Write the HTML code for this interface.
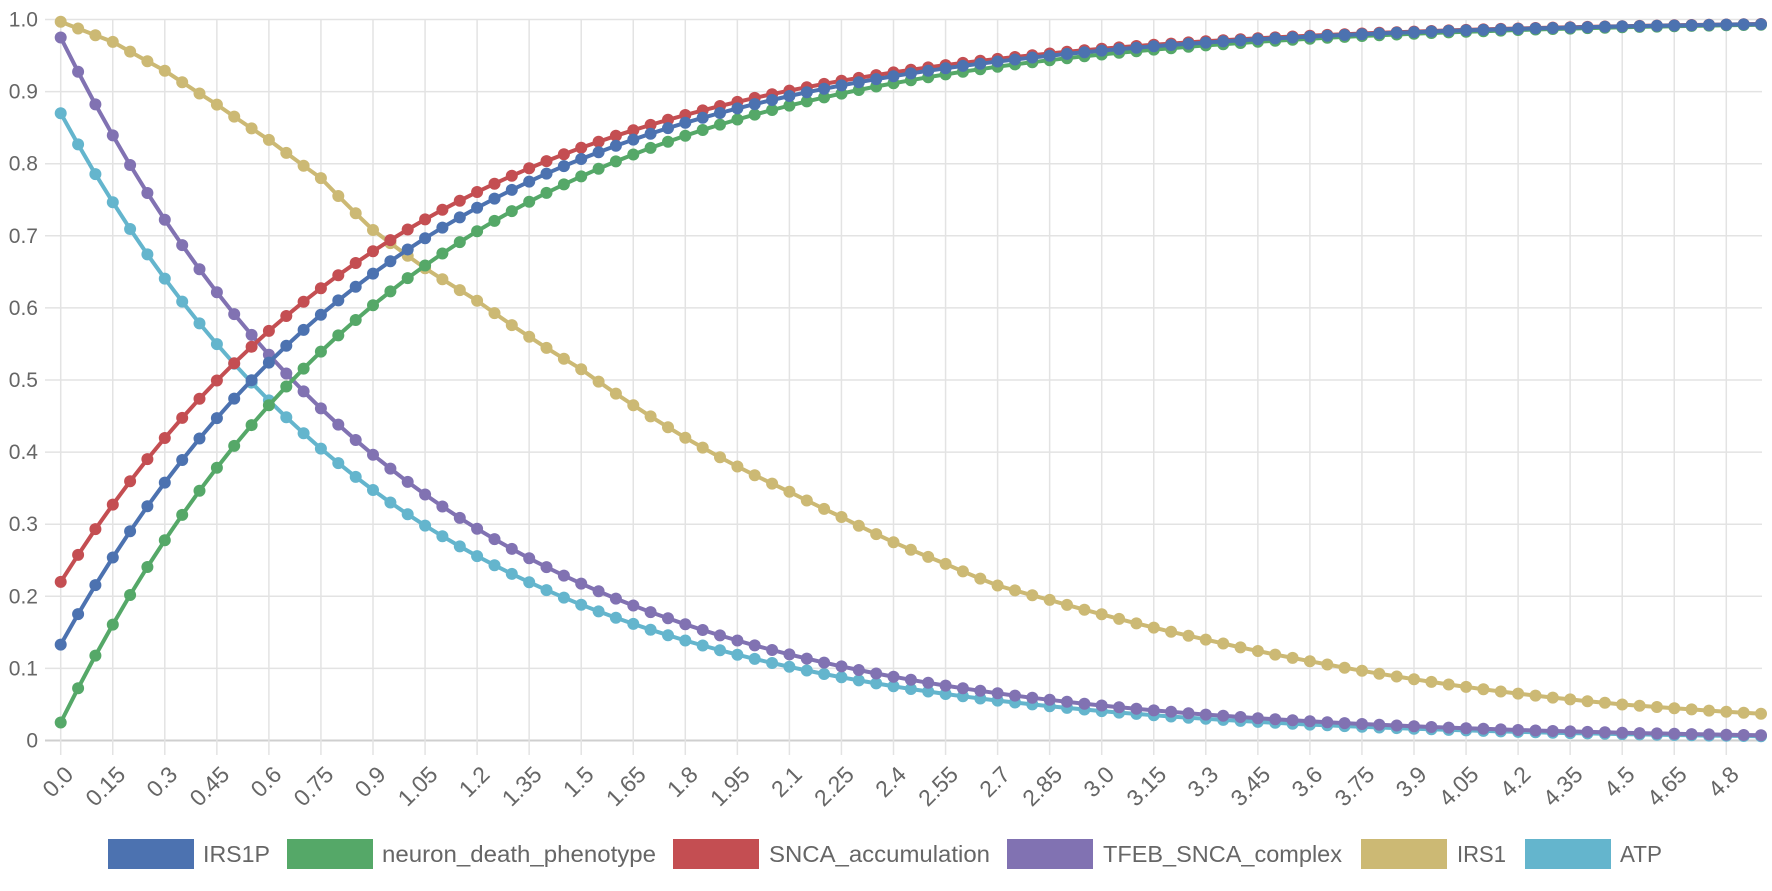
<!DOCTYPE html>
<html><head><meta charset="utf-8">
<style>
html,body{margin:0;padding:0;background:#fff;}
body{width:1772px;height:886px;overflow:hidden;font-family:"Liberation Sans",sans-serif;}
</style></head>
<body>
<svg id="c" width="1772" height="886" xmlns="http://www.w3.org/2000/svg" font-family="Liberation Sans, sans-serif"></svg>
<script>
var svg=document.getElementById('c');
var X0=60.7,S=17.35,Y1=19.5,Y0=740.5;
function X(i){return X0+i*S;}
function Y(v){return Y0-(Y0-Y1)*v;}
var h='';
for(var k=0;k<=10;k++){var y=Y(k/10);
h+='<line x1="45" x2="1762" y1="'+y+'" y2="'+y+'" stroke="'+(k==0?'#cfcfcf':'#e3e3e3')+'" stroke-width="'+(k==0?2:1.5)+'"/>';
h+='<text x="38" y="'+(y+7)+'" text-anchor="end" font-size="21" fill="#666">'+(k==0?'0':(k/10).toFixed(1))+'</text>';}
for(var i=0;i<=98;i+=3){var x=X(i);
h+='<line x1="'+x+'" x2="'+x+'" y1="'+Y1+'" y2="755" stroke="#e3e3e3" stroke-width="1.5"/>';
var t=Math.round(i*5)/100;var lab=(t%1===0)?t.toFixed(1):String(t);
h+='<text transform="translate('+(x+14)+',776) rotate(-45)" text-anchor="end" font-size="23" fill="#666">'+lab+'</text>';}
var knots=[[0,.997],[.15,.969],[.3,.929],[.45,.882],[.6,.833],[.75,.78],[.9,.708],[1.05,.655],[1.2,.61],[1.35,.56],[1.5,.515],[1.65,.465],[1.8,.42],[1.95,.38],[2.1,.345],[2.25,.31],[2.4,.275],[2.55,.245],[2.7,.215],[2.85,.195],[3.0,.175],[3.3,.14],[3.6,.11],[3.9,.085],[4.2,.065],[4.5,.05],[4.8,.04],[4.9,.037]];
function irs1(t){for(var j=0;j<knots.length-1;j++){var a=knots[j],b=knots[j+1];if(t<=b[0]+1e-9){var f=(t-a[0])/(b[0]-a[0]);return Math.exp(Math.log(a[1])*(1-f)+Math.log(b[1])*f);}}return .037;}
var series=[
['#64b5cd',function(t){return .87*Math.exp(-1.02*t);}],
['#ccb974',irs1],
['#8172b2',function(t){return .975*Math.exp(-t);}],
['#c44e52',function(t){return 1-.78*Math.exp(-.985*t);}],
['#55a868',function(t){return 1-.975*Math.exp(-t);}],
['#4c72b0',function(t){return 1-.867*Math.exp(-t);}]
];
series.forEach(function(s){var pts=[],d='';
for(var i=0;i<=98;i++){var t=i*0.05;pts.push([X(i),Y(s[1](t))]);}
h+='<polyline fill="none" stroke="'+s[0]+'" stroke-width="4" stroke-linejoin="round" points="'+pts.map(function(p){return p[0].toFixed(1)+','+p[1].toFixed(1);}).join(' ')+'"/>';
pts.forEach(function(p){d+='<circle cx="'+p[0].toFixed(1)+'" cy="'+p[1].toFixed(1)+'" r="6" fill="'+s[0]+'"/>';});
h+=d;});
var leg=[['IRS1P','#4c72b0',108,203,67],['neuron_death_phenotype','#55a868',287,382,274],['SNCA_accumulation','#c44e52',673,769,221],['TFEB_SNCA_complex','#8172b2',1007,1103,239],['IRS1','#ccb974',1361,1457,49],['ATP','#64b5cd',1525,1620,42]];
leg.forEach(function(l){
h+='<rect x="'+l[2]+'" y="839" width="86" height="30" fill="'+l[1]+'"/>';
h+='<text x="'+l[3]+'" y="862" font-size="23" fill="#666" textLength="'+l[4]+'" lengthAdjust="spacingAndGlyphs">'+l[0]+'</text>';});
svg.innerHTML=h;
</script>
</body></html>
